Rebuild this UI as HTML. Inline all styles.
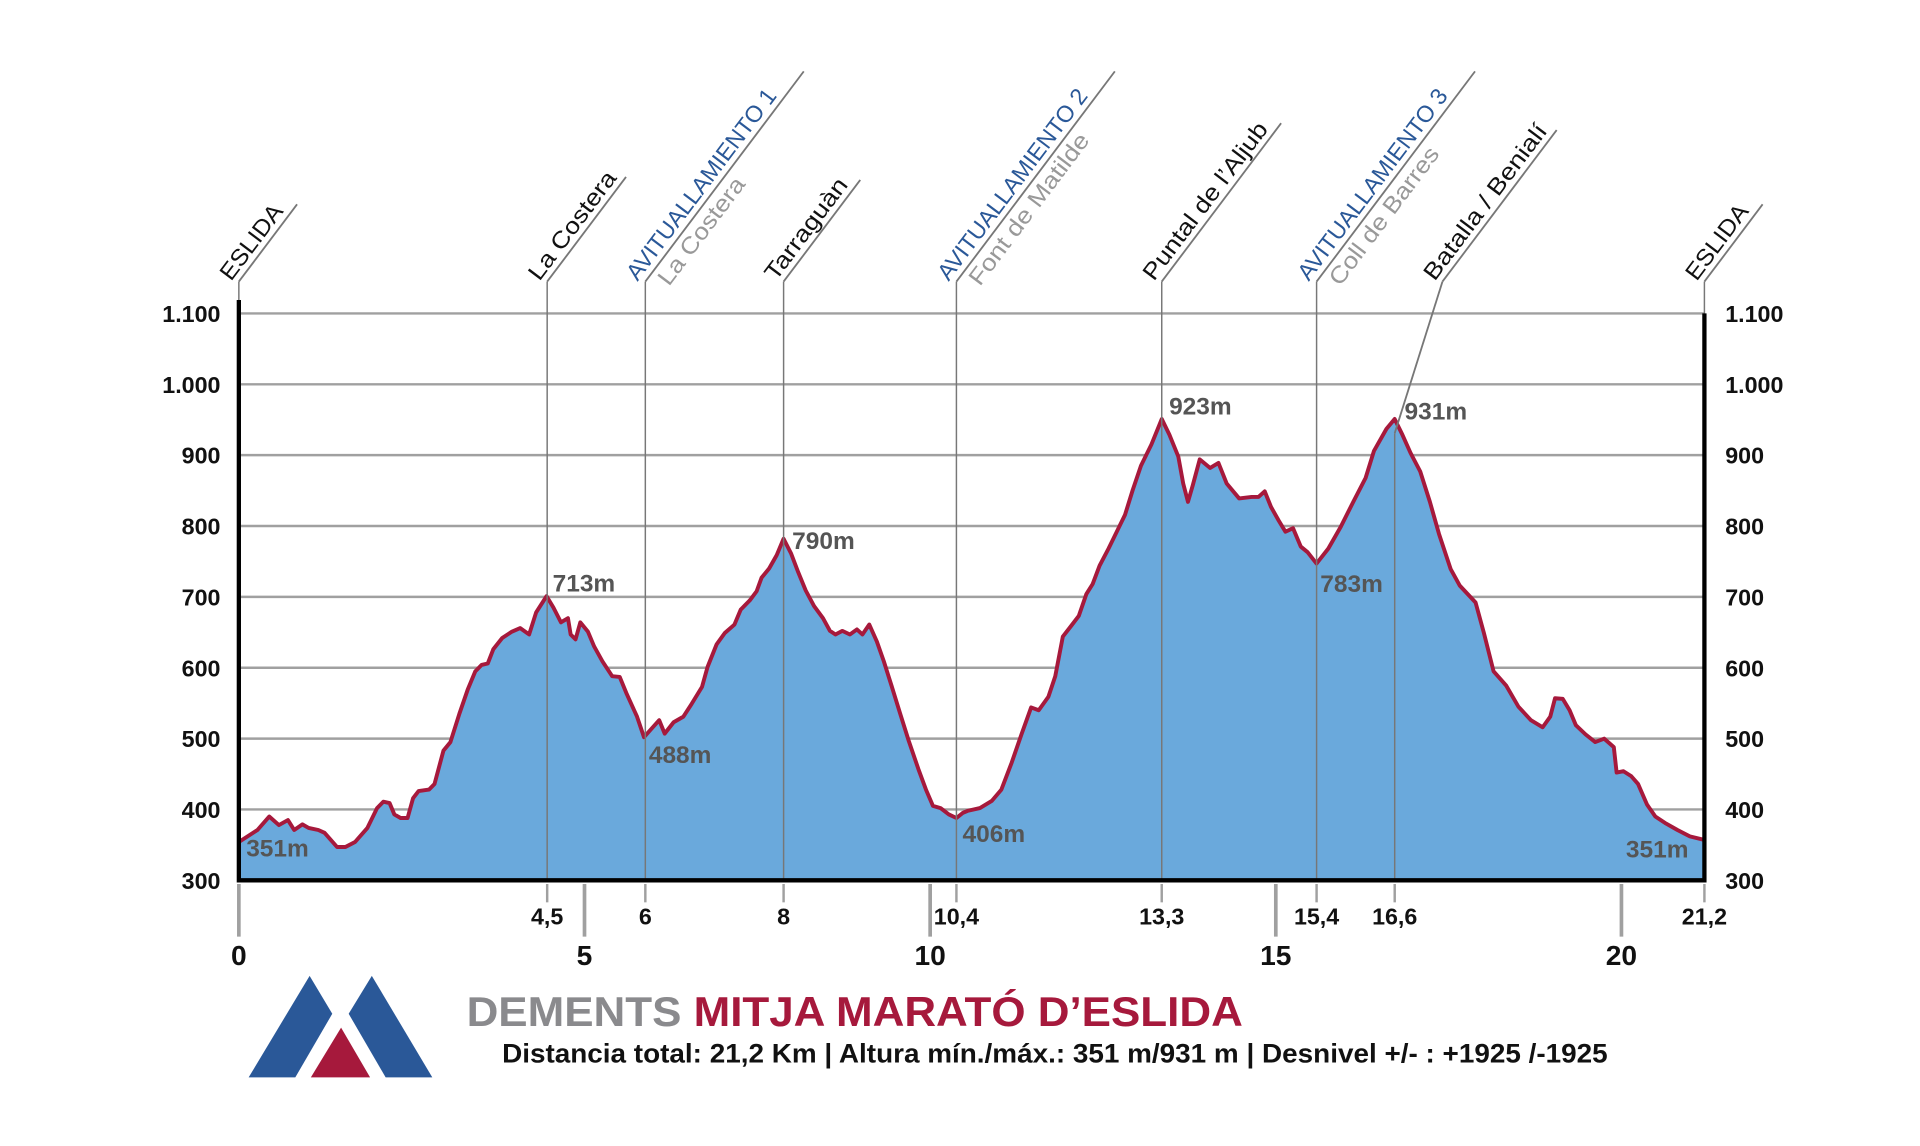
<!DOCTYPE html>
<html><head><meta charset="utf-8"><style>
html,body{margin:0;padding:0;background:#fff}
svg{display:block}
text{font-family:"Liberation Sans",sans-serif}
</style></head><body>
<svg id="chart" width="1920" height="1146" viewBox="0 0 1568 936" xmlns="http://www.w3.org/2000/svg">
<g id="grid"></g>
<g id="area"></g>
<g id="markers"></g>
<g id="axes"></g>
<g id="labels"></g>
<g>
<polygon points="252.8,797 271.3,828 241.1,880 203,880" fill="#2a5898"/>
<polygon points="303.6,797 353,880 314.9,880 284.7,828" fill="#2a5898"/>
<polygon points="278.5,839.3 302.2,880 253.8,880" fill="#a6193c"/>
</g>
<text x="381" y="838" font-size="34" font-weight="bold" textLength="634" lengthAdjust="spacingAndGlyphs"><tspan fill="#8a8a8d">DEMENTS </tspan><tspan fill="#a6193c">MITJA MARATÓ D’ESLIDA</tspan></text>
<text x="410" y="868" font-size="22" font-weight="bold" fill="#111" textLength="903" lengthAdjust="spacingAndGlyphs">Distancia total: 21,2 Km | Altura mín./máx.: 351 m/931 m  |  Desnivel +/- : +1925 /-1925</text>
</svg>
<script>
const distKm=[0,0.27,0.44,0.58,0.71,0.80,0.92,1.01,1.15,1.24,1.42,1.54,1.68,1.86,2.00,2.09,2.18,2.25,2.34,2.44,2.52,2.60,2.75,2.83,2.96,3.06,3.19,3.31,3.42,3.51,3.60,3.68,3.81,3.95,4.07,4.20,4.30,4.45,4.55,4.66,4.76,4.80,4.87,4.94,5.05,5.14,5.26,5.40,5.51,5.61,5.76,5.86,5.97,6.08,6.16,6.29,6.43,6.55,6.70,6.78,6.91,7.03,7.17,7.26,7.39,7.49,7.56,7.67,7.78,7.88,7.99,8.09,8.20,8.32,8.45,8.55,8.63,8.73,8.84,8.94,9.02,9.12,9.23,9.33,9.44,9.56,9.69,9.83,9.94,10.04,10.15,10.27,10.38,10.47,10.54,10.72,10.89,11.03,11.18,11.32,11.46,11.57,11.71,11.81,11.92,12.04,12.15,12.26,12.35,12.45,12.58,12.72,12.82,12.93,13.05,13.20,13.35,13.46,13.59,13.66,13.73,13.80,13.90,14.05,14.17,14.29,14.47,14.65,14.75,14.84,14.93,15.04,15.14,15.25,15.36,15.46,15.59,15.76,15.94,16.12,16.30,16.42,16.60,16.72,16.83,16.95,17.09,17.23,17.36,17.53,17.66,17.89,18.01,18.15,18.33,18.51,18.69,18.86,18.97,19.04,19.15,19.25,19.34,19.48,19.62,19.75,19.89,19.93,20.03,20.14,20.24,20.37,20.49,20.63,20.81,20.99,21.20];
const elevM=[354,371,390,378,385,371,379,374,371,367,347,347,354,374,402,411,409,393,388,388,416,426,428,436,483,495,535,569,595,604,606,626,642,651,656,647,678,701,685,664,670,647,640,664,651,630,609,588,587,563,531,502,514,526,507,523,531,549,573,601,633,649,661,682,695,708,727,740,759,782,761,735,709,687,670,652,647,652,647,654,647,661,637,609,575,537,497,457,428,405,402,393,388,395,398,402,412,428,466,506,544,540,559,588,644,659,673,704,718,744,768,796,816,851,885,915,951,929,898,860,834,858,894,882,889,860,839,841,841,849,827,808,792,797,771,763,747,768,799,834,868,906,937,951,929,903,877,834,789,739,716,692,649,595,575,545,526,516,531,557,556,540,519,506,495,500,488,452,454,447,436,407,390,381,371,362,357];
const yTicks=[300,400,500,600,700,800,900,1000,1100];
const yTickLabels=["300","400","500","600","700","800","900","1.000","1.100"];
const majorKm=[0,5,10,15,20];
const minorKm=[4.46,5.88,7.88,10.38,13.35,15.59,16.72,21.2];
const minorLabels=["4,5","6","8","10,4","13,3","15,4","16,6","21,2"];
const wpKm=[0,4.46,5.88,7.88,10.38,13.35,15.59,16.72,21.2];
const wpName=["ESLIDA","La Costera","AVITUALLAMIENTO 1","Tarraguàn","AVITUALLAMIENTO 2","Puntal de l’Aljub","AVITUALLAMIENTO 3","Batalla / Benialí","ESLIDA"];
const wpSub=["","","La Costera","","Font de Matilde","","Coll de Barres","",""];
const peakKm=[0,4.45,5.86,7.88,10.38,13.35,15.59,16.72,21.2];
const peakElev=[351,713,488,790,406,923,783,931,351];
const peakText=["351m","713m","488m","790m","406m","923m","783m","931m","351m"];

const NS="http://www.w3.org/2000/svg";
const X0=195,X1=1392,Y0=719,Y1=256;
const xs=k=>X0+(k/21.2)*(X1-X0);
const ys=e=>Y0-(e-300)/800*(Y0-Y1);
function mk(tag,attrs,parent,txt){const e=document.createElementNS(NS,tag);for(const k in attrs)e.setAttribute(k,attrs[k]);if(txt!==undefined)e.textContent=txt;parent.appendChild(e);return e;}
const grid=document.getElementById('grid'),area=document.getElementById('area'),markers=document.getElementById('markers'),axes=document.getElementById('axes'),labels=document.getElementById('labels');

yTicks.forEach((v,i)=>{
  const l=mk('line',{x1:X0,x2:X1,y1:ys(v),y2:ys(v),stroke:'#a0a0a0','stroke-width':2},grid);
  
  
  const t1=mk('text',{x:180,y:ys(v)+7,'text-anchor':'end','font-size':19,'font-weight':'bold',fill:'#111'},axes,yTickLabels[i]);
  
  
  const t2=mk('text',{x:1409,y:ys(v)+7,'font-size':19,'font-weight':'bold',fill:'#111'},axes,yTickLabels[i]);
  
  
});

let d='M'+xs(distKm[0])+','+ys(300);
distKm.forEach((k,i)=>{d+=' L'+xs(k).toFixed(1)+','+ys(elevM[i]).toFixed(1);});
d+=' L'+xs(distKm[distKm.length-1])+','+ys(300)+' Z';
const fill=mk('path',{d:d,fill:'#6aa9dc'},area);


let ld='';
distKm.forEach((k,i)=>{ld+=(i?' L':'M')+xs(k).toFixed(1)+','+ys(elevM[i]).toFixed(1);});

wpKm.forEach((k,i)=>{
  const g=mk('g',{},markers);
  
  
  const x=xs(k);
  let cx=x, cy=230;
  if(i===7){cx=x+39;mk('line',{x1:x,y1:ys(peakElev[7]),x2:cx,y2:cy,stroke:'#777','stroke-width':1.5},g);
    mk('line',{x1:x,y1:Y0,x2:x,y2:ys(peakElev[7]),stroke:'#777','stroke-width':1.2},g);}
  else mk('line',{x1:x,y1:Y0,x2:x,y2:cy,stroke:'#777','stroke-width':1.2},g);
  const lens=[79,107,215,104,215,162,215,155,79];
  const tl=[72,106,190,99,190,156,190,154,72];
  const sl=[0,0,105,0,150,0,136,0,0];
  const r=mk('g',{transform:'translate('+cx+','+cy+') rotate(-53)'},g);
  mk('line',{x1:0,y1:0,x2:lens[i],y2:0,stroke:'#777','stroke-width':1.5},r);
  const blue=wpSub[i]!=='';
  const t=mk('text',{x:-4,y:-5,'font-size':19,fill:blue?'#2a5898':'#111',textLength:tl[i],lengthAdjust:'spacingAndGlyphs'},r,wpName[i]);
  
  
  if(blue){const s=mk('text',{x:8,y:18,'font-size':19,fill:'#999',textLength:sl[i],lengthAdjust:'spacingAndGlyphs'},r,wpSub[i]);
    
    }
});

const line=mk('path',{d:ld,fill:'none',stroke:'#a6193c','stroke-width':3.2,'stroke-linejoin':'round'},area);



const ax=mk('path',{d:'M'+X0+',245 L'+X0+','+Y0+' L'+X1+','+Y0+' L'+X1+','+Y1,fill:'none',stroke:'#000','stroke-width':3.5},axes);



majorKm.forEach(k=>{
  const x=xs(k);
  mk('line',{x1:x,x2:x,y1:722,y2:765,stroke:'#a0a0a0','stroke-width':3},axes);
  const t=mk('text',{x:x,y:788,'text-anchor':'middle','font-size':23,'font-weight':'bold',fill:'#111'},axes,String(k));
  
  
});
minorKm.forEach((k,i)=>{
  const x=xs(k);
  mk('line',{x1:x,x2:x,y1:722,y2:737,stroke:'#a0a0a0','stroke-width':2},axes);
  const t=mk('text',{x:x,y:755,'text-anchor':'middle','font-size':19,'font-weight':'bold',fill:'#111'},axes,minorLabels[i]);
  
  
});

const off=[[6,10,'start'],[5,3,'start'],[4,13,'start'],[7,13,'start'],[5,30,'start'],[6,-20,'start'],[3,44,'start'],[8,-11,'start'],[-13,11,'end']];
peakKm.forEach((k,i)=>{
  const t=mk('text',{x:xs(k)+off[i][0],y:ys(peakElev[i])+off[i][1],'text-anchor':off[i][2],'font-size':20,'font-weight':'bold',fill:'#555'},labels,peakText[i]);
  
  
});
</script>
</body></html>
